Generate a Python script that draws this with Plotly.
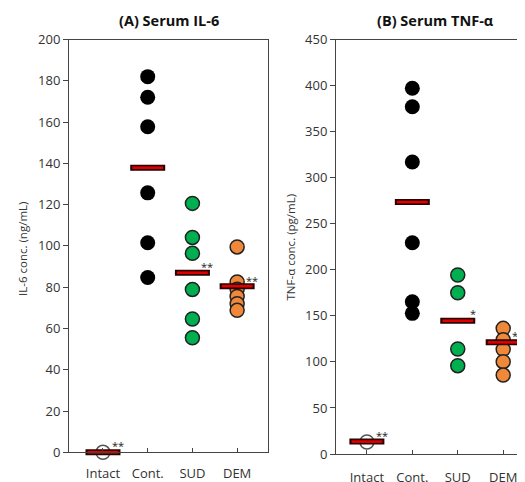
import plotly.graph_objects as go

# ---------------- data ----------------
categories = ["Intact", "Cont.", "SUD", "DEM"]

il6_intact = [0]
il6_cont = [182, 172, 157.7, 125.7, 101.5, 84.7]
il6_sud = [120.6, 104.1, 96.4, 78.9, 64.6, 55.5]
il6_dem = [99.5, 82.5, 79, 75.5, 72, 68.8]
il6_means = [0, 137.9, 87, 80.5]
il6_sig_text = ["**", "", "**", "**"]
il6_sig_y = [4.6, None, 91.5, 84.5]

tnf_intact = [13]
tnf_cont = [397, 377, 317, 229.4, 165.3, 152.7]
tnf_sud = [194.3, 175.1, 114, 95.9]
tnf_dem = [136.4, 124, 113.6, 100.2, 85.7]
tnf_means = [13.5, 273.5, 144.7, 121.2]
tnf_sig_text = ["**", "", "*", "**"]
tnf_sig_y = [23.5, None, 155.5, 132.4]

il6_ticks = [0, 20, 40, 60, 80, 100, 120, 140, 160, 180, 200]
tnf_ticks = [0, 50, 100, 150, 200, 250, 300, 350, 400, 450]

# ---------------- styles ----------------
# page body has an 8px margin, so the figure is sized to the visible area
OFF = 8
W, H = 525 - OFF, 482 - OFF
FONT = "Open Sans"
AXC = "#444444"
TXT = "#333333"
GREEN = "#00B050"
ORANGE = "#F0883A"
EDGE = "#222222"


def px(x):
    return (x - OFF) / W


def py(y):
    return 1 - (y - OFF) / H


fig = go.Figure()


def add_panel(xa, ya, intact, cont, sud, dem, means):
    fig.add_trace(go.Scatter(x=[categories[0]] * len(intact), y=intact, mode="markers",
                             marker=dict(size=14, color="white", line=dict(color="#555555", width=1.5)),
                             xaxis=xa, yaxis=ya, cliponaxis=False, showlegend=False, hoverinfo="y"))
    fig.add_trace(go.Scatter(x=[categories[1]] * len(cont), y=cont, mode="markers",
                             marker=dict(size=15, color="black", line=dict(color="black", width=0)),
                             xaxis=xa, yaxis=ya, cliponaxis=False, showlegend=False, hoverinfo="y"))
    for v in sud:
        fig.add_trace(go.Scatter(x=[categories[2]], y=[v], mode="markers",
                                 marker=dict(size=14, color=GREEN, line=dict(color=EDGE, width=1.5)),
                                 xaxis=xa, yaxis=ya, cliponaxis=False, showlegend=False, hoverinfo="y"))
    for v in dem:
        fig.add_trace(go.Scatter(x=[categories[3]], y=[v], mode="markers",
                                 marker=dict(size=14, color=ORANGE, line=dict(color=EDGE, width=1.5)),
                                 xaxis=xa, yaxis=ya, cliponaxis=False, showlegend=False, hoverinfo="y"))
    # mean bars: dark outline + red core
    fig.add_trace(go.Scatter(x=categories, y=means, mode="markers",
                             marker=dict(symbol="line-ew", size=25, color="#2a0000",
                                         line=dict(color="#2a0000", width=6)),
                             xaxis=xa, yaxis=ya, cliponaxis=False, showlegend=False, hoverinfo="y"))
    fig.add_trace(go.Scatter(x=categories, y=means, mode="markers",
                             marker=dict(symbol="line-ew", size=22, color="#e00000",
                                         line=dict(color="#e00000", width=2.6)),
                             xaxis=xa, yaxis=ya, cliponaxis=False, showlegend=False, hoverinfo="skip"))


add_panel("x", "y", il6_intact, il6_cont, il6_sud, il6_dem, il6_means)
add_panel("x2", "y2", tnf_intact, tnf_cont, tnf_sud, tnf_dem, tnf_means)

annotations = []
for xa, ya, texts, ys in (("x", "y", il6_sig_text, il6_sig_y), ("x2", "y2", tnf_sig_text, tnf_sig_y)):
    for c, t, yv in zip(categories, texts, ys):
        if t:
            annotations.append(dict(x=c, y=yv, xref=xa, yref=ya, text=t, showarrow=False,
                                    xanchor="center", yanchor="middle",
                                    xshift=15, yshift=-3, font=dict(family=FONT, size=11, color="#222")))

# titles & axis titles
annotations += [
    dict(x=px(168.5), y=py(20), xref="paper", yref="paper", text="<b>(A) Serum IL-6</b>",
         xanchor="center", yanchor="middle",
         showarrow=False, font=dict(family=FONT, size=14.5, color="#111")),
    dict(x=px(435), y=py(20), xref="paper", yref="paper", text="<b>(B) Serum TNF-α</b>",
         xanchor="center", yanchor="middle",
         showarrow=False, font=dict(family=FONT, size=14.5, color="#111")),
    dict(x=px(22), y=py(249), xref="paper", yref="paper", text="IL-6 conc. (ng/mL)",
         xanchor="center", yanchor="middle",
         textangle=-90, showarrow=False, font=dict(family=FONT, size=11.5, color=TXT)),
    dict(x=px(290), y=py(247.5), xref="paper", yref="paper", text="TNF-α conc. (pg/mL)",
         xanchor="center", yanchor="middle",
         textangle=-90, showarrow=False, font=dict(family=FONT, size=11.5, color=TXT)),
]

xcommon = dict(type="category", categoryorder="array", categoryarray=categories,
               showline=True, linecolor=AXC, linewidth=1, mirror=True, ticks="inside",
               ticklen=4, tickcolor=AXC, showgrid=False, zeroline=False, automargin=False,
               tickfont=dict(family=FONT, size=13, color=TXT))
ycommon = dict(showline=True, linecolor=AXC, linewidth=1, ticks="outside", ticklen=5,
               tickcolor=AXC, showgrid=False, zeroline=False, automargin=False,
               tickfont=dict(family=FONT, size=13, color=TXT))

fig.update_layout(
    width=W, height=H,
    margin=dict(l=0, r=0, t=0, b=0, autoexpand=False),
    paper_bgcolor="white", plot_bgcolor="white",
    xaxis=dict(xcommon, domain=[px(69), px(268)], range=[-0.76, 3.69], anchor="y",
               ticklabelstandoff=9),
    yaxis=dict(ycommon, domain=[py(452.3), py(39.5)], range=[0, 200],
               tickvals=il6_ticks, mirror=True, anchor="x"),
    xaxis2=dict(xcommon, domain=[px(336), 1.0], range=[-0.68, 3.48], anchor="y2",
                ticklabelstandoff=11),
    yaxis2=dict(ycommon, domain=[py(454), py(39.5)], range=[0, 450],
                tickvals=tnf_ticks, mirror=False, anchor="x2"),
    annotations=annotations,
    showlegend=False,
)

fig.write_html("out.html")
